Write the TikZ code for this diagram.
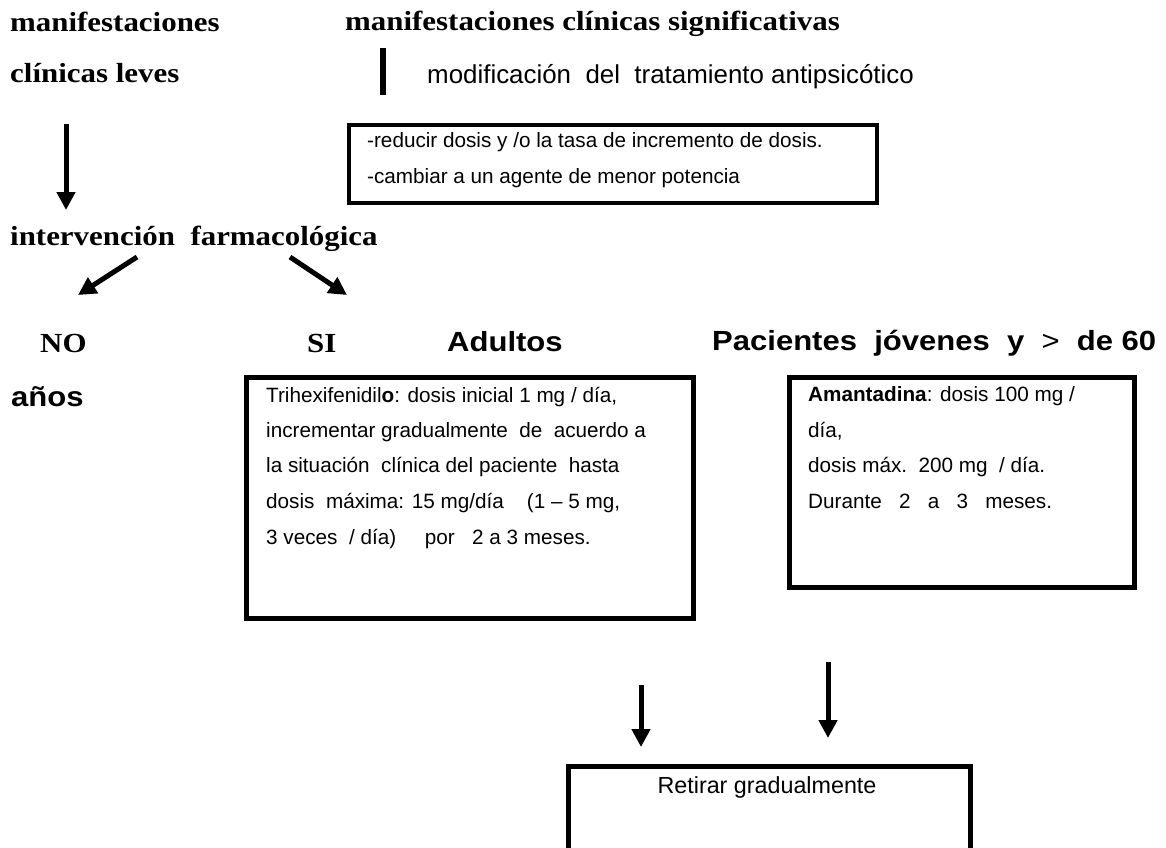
\documentclass[tikz,border=0pt]{standalone}
\usepackage{fontspec}
\setmainfont{Liberation Serif}
\newfontfamily\tnr[FakeStretch=1.12]{Liberation Serif}
\newfontfamily\arial{Liberation Sans}
\newfontfamily\arialw[FakeStretch=1.12]{Liberation Sans}
\usetikzlibrary{arrows.meta}

\begin{document}
\begin{tikzpicture}[x=1pt,y=-1pt,
caja/.style={draw,line width=5pt,anchor=north west,inner sep=0pt},
flecha/.style={-{Triangle[length=18pt,width=18pt]},line width=5pt},
tit/.style={anchor=base west,inner sep=0pt,font=\tnr\bfseries\fontsize{27.6}{30}\selectfont},
gr/.style={anchor=base west,inner sep=0pt,font=\arialw\bfseries\fontsize{27.7}{30}\selectfont},
txt/.style={anchor=base west,inner sep=0pt,font=\arial\fontsize{20.7}{24}\selectfont}]

\useasboundingbox (0,0) rectangle (1166,847);

% left column
\node[tit] (m1) at (10,31) {manifestaciones};
\node[tit] (m2) at (10,82) {clínicas leves};
\node[tit] (int) at (10,245) {intervención\ \ farmacológica};
\coordinate (a1) at (66,124);
\coordinate (a2) at (66,210);
\draw[flecha] (a1) -- (a2);
\coordinate (d1) at (137,257);
\coordinate (d2) at (78,295);
\coordinate (d3) at (290,257);
\coordinate (d4) at (347,295);
\draw[flecha] (d1) -- (d2);
\draw[flecha] (d3) -- (d4);

% right column
\node[tit] (m3) at (345,30) {manifestaciones clínicas significativas};
\draw[line width=6pt] (383,48) -- (383,95);
\node[txt,font=\arial\fontsize{25.9}{28}\selectfont] (mod) at (427,83)
  {modificación\ \ del\ \ tratamiento antipsicótico};
\node[caja,line width=4pt,minimum width=528pt,minimum height=78pt] (b1) at (347,123) {};
\node[txt] (r1) at (367,147) {-reducir dosis y /o la tasa de incremento de dosis.};
\node[txt] (r2) at (367,183) {-cambiar a un agente de menor potencia};

% NO / SI
\node[tit] (no) at (40,352) {NO};
\node[tit] (si) at (307,352) {SI};
\node[gr] (ad) at (447,351) {Adultos};
\node[gr] (pj) at (712,350) {Pacientes\ \ jóvenes\ \ y\ \ {\mdseries >}\ \ de 60};
\node[gr] (an) at (11,406) {años};

% Trihexifenidilo
\node[caja,minimum width=447pt,minimum height=241pt] (b2) at (243.5,374.5) {};
\node[txt] (t1) at (266,402) {Trihexifenidil\textbf{o}: dosis inicial 1 mg / día,};
\node[txt] (t2) at (266,437) {incrementar gradualmente\ \ de\ \ acuerdo a};
\node[txt] (t3) at (266,472) {la situación\ \ clínica del paciente\ \ hasta};
\node[txt] (t4) at (266,508) {dosis\ \ máxima: 15 mg/día\ \ \ \ (1 – 5 mg,};
\node[txt] (t5) at (266,544) {3 veces\ \ / día)\ \ \ \ \ por\ \ \ 2 a 3 meses.};

% Amantadina
\node[caja,minimum width=345pt,minimum height=210pt] (b3) at (786.5,374.5) {};
\node[txt] (s1) at (808,401) {\textbf{Amantadina}: dosis 100 mg /};
\node[txt] (s2) at (808,437) {día,};
\node[txt] (s3) at (808,472) {dosis máx.\ \ 200 mg\ \ / día.};
\node[txt] (s4) at (808,508) {Durante\ \ \ 2\ \ \ a\ \ \ 3\ \ \ meses.};

% retirar
\coordinate (e1) at (641,685);
\coordinate (e2) at (641,747);
\coordinate (e3) at (828,662);
\coordinate (e4) at (828,738);
\draw[flecha] (e1) -- (e2);
\draw[flecha] (e3) -- (e4);
\node[caja,minimum width=402pt,minimum height=85pt] (b4) at (566,764) {};
\node[txt,anchor=base,font=\arial\fontsize{23.3}{26}\selectfont] (ret) at (767,793) {Retirar gradualmente};

\end{tikzpicture}
\end{document}
